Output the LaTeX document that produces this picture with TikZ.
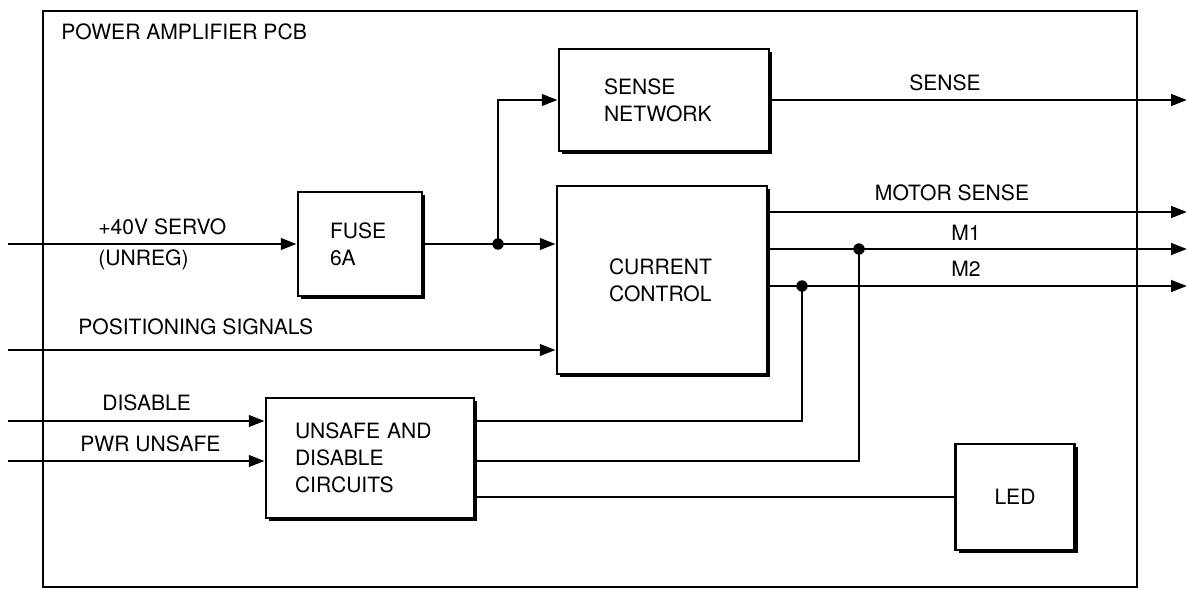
\documentclass[tikz,border=0pt]{standalone}
\usepackage{fontspec}
\setmainfont{TeX Gyre Heros}
\usetikzlibrary{arrows.meta,shadows}

\begin{document}
\begin{tikzpicture}[x=0.02cm,y=-0.02cm,
  font=\fontsize{12}{15.5}\selectfont,
  sig/.style={line width=1.6pt,-{Triangle[length=9pt,width=6.5pt]}},
  wire/.style={line width=1.6pt},
  blk/.style={draw,line width=1.6pt,fill=white,align=left,inner ysep=0pt,
    drop shadow={shadow xshift=1.8pt,shadow yshift=-1.8pt,opacity=1,fill=black}},
  dot/.style={circle,fill,inner sep=0pt,minimum size=6.5pt},
  lbl/.style={inner sep=0pt}]
\useasboundingbox (0,0) rectangle (1187,589);
% board outline
\draw[line width=1.1pt] (43,11) rectangle (1137,587);
\node[lbl,anchor=west] (title) at (61,32) {POWER AMPLIFIER PCB};

% blocks
\node[blk,text width=2.4cm,inner xsep=0.9cm,minimum height=2.04cm] (sense) at (664,100) {SENSE\\NETWORK};
\node[blk,text width=1.2cm,inner xsep=0.64cm,minimum height=2.08cm] (fuse) at (360,244) {FUSE\\6A};
\node[blk,text width=2.12cm,inner xsep=1.04cm,minimum height=3.76cm] (cc) at (662,280) {CURRENT\\CONTROL};
\node[blk,text width=3.0cm,inner xsep=0.58cm,minimum height=2.4cm] (uns) at (370,458) {UNSAFE AND\\DISABLE\\CIRCUITS};
\node[blk,align=center,minimum width=2.38cm,minimum height=2.12cm] (led) at (1015,497) {LED};

% free ends
\coordinate (in40) at (8,244);
\coordinate (pos) at (8,350);
\coordinate (dis) at (8,421);
\coordinate (pwr) at (8,461);
\coordinate (sOut) at (1187,100);
\coordinate (msOut) at (1187,212);
\coordinate (m1Out) at (1187,249);
\coordinate (m2Out) at (1187,286);

% junctions
\node[dot] (j1) at (498,244) {};
\node[dot] (j2) at (802,286) {};
\node[dot] (j3) at (859,249) {};

% inputs
\draw[sig] (in40) -- (fuse.west);
\draw[wire] (fuse.east) -- (j1.center);
\draw[sig] (j1.center) -- (j1 -| cc.west);
\draw[sig] (j1.center) |- (sense.west);
\draw[sig] (pos) -- (pos -| cc.west);
\draw[sig] (dis) -- (dis -| uns.west);
\draw[sig] (pwr) -- (pwr -| uns.west);

% outputs
\draw[sig] (sense.east) -- (sOut);
\draw[sig] (cc.east |- msOut) -- (msOut);
\draw[sig] (cc.east |- m1Out) -- (m1Out);
\draw[sig] (cc.east |- m2Out) -- (m2Out);
\draw[wire] (uns.east |- dis) -| (j2.center);
\draw[wire] (uns.east |- pwr) -| (j3.center);
\draw[wire] (uns.east |- led.west) -- (led.west);

% labels
\node[lbl,anchor=west] (lServo) at (98,227) {+40V SERVO};
\node[lbl,anchor=west] (lUnreg) at (98,260) {(UNREG)};
\node[lbl,anchor=west] (lPos) at (78,327) {POSITIONING SIGNALS};
\node[lbl,anchor=west] (lDis) at (102,403) {DISABLE};
\node[lbl,anchor=west] (lPwr) at (80,444) {PWR UNSAFE};
\node[lbl] (lSense) at (945,83) {SENSE};
\node[lbl] (lMs) at (952,193) {MOTOR SENSE};
\node[lbl] (lM1) at (966,233) {M1};
\node[lbl] (lM2) at (966,269) {M2};
\end{tikzpicture}
\end{document}
